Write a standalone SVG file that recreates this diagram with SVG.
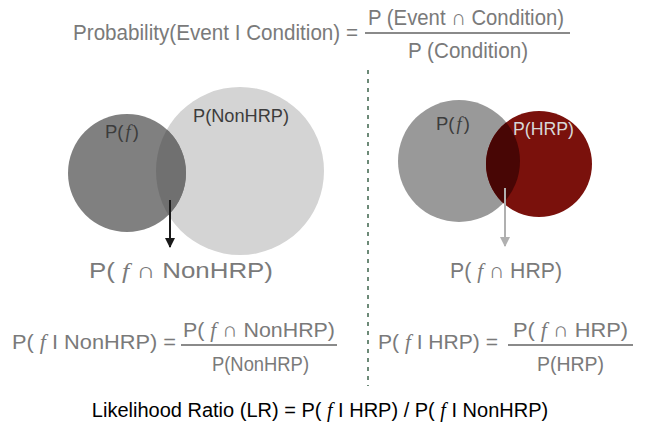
<svg xmlns="http://www.w3.org/2000/svg" width="646" height="426" viewBox="0 0 646 426">
  <defs>
    <style>
      text { font-family: "Liberation Sans", Arial, sans-serif; fill: #7a7a7a; }
      .f { font-family: "Liberation Serif", "Times New Roman", serif; font-style: italic; }
      .big { font-size: 22px; }
      .mid { font-size: 21px; }
      .lbl { font-size: 18.5px; }
      .dark { fill: #3c3c3c; }
      .bar { stroke: #8a8a8a; stroke-width: 2; }
    </style>
    <clipPath id="clipFLeft"><circle cx="127" cy="173" r="59"/></clipPath>
    <clipPath id="clipFRight"><circle cx="459" cy="161" r="61"/></clipPath>
    <marker id="headBlack" viewBox="0 0 10 10" refX="9" refY="5" markerWidth="10" markerHeight="10" markerUnits="userSpaceOnUse" orient="auto">
      <path d="M0,0 L10,5 L0,10 z" fill="#1a1a1a"/>
    </marker>
    <marker id="headGray" viewBox="0 0 10 10" refX="9" refY="5" markerWidth="10" markerHeight="10" markerUnits="userSpaceOnUse" orient="auto">
      <path d="M0,0 L10,5 L0,10 z" fill="#b0b0b0"/>
    </marker>
  </defs>

  <rect width="646" height="426" fill="#ffffff"/>

  <!-- general definition of conditional probability -->
  <g id="definition">
    <text class="big" x="73" y="40" textLength="285" lengthAdjust="spacingAndGlyphs">Probability(Event I Condition) =</text>
    <text class="big" x="368" y="25" textLength="196" lengthAdjust="spacingAndGlyphs">P (Event ∩ Condition)</text>
    <line class="bar" x1="365" y1="33" x2="570" y2="33"/>
    <text class="big" x="408" y="58" textLength="120" lengthAdjust="spacingAndGlyphs">P (Condition)</text>
  </g>

  <!-- divider between the two cases -->
  <g id="divider">
    <line x1="368" y1="70" x2="368" y2="386" stroke="#6d8a78" stroke-width="2" stroke-dasharray="4 5"/>
  </g>

  <!-- left case: f and NonHRP -->
  <g id="venn-nonhrp">
    <circle cx="240" cy="171" r="84" fill="#d4d4d4"/>
    <circle cx="127" cy="173" r="59" fill="#808080"/>
    <circle cx="240" cy="171" r="84" fill="#707070" clip-path="url(#clipFLeft)"/>
    <text class="lbl dark" x="105" y="138">P(<tspan class="f" dx="2">f</tspan><tspan dx="2">)</tspan></text>
    <text class="lbl dark" x="193" y="122" textLength="96" lengthAdjust="spacingAndGlyphs">P(NonHRP)</text>
  </g>

  <!-- right case: f and HRP -->
  <g id="venn-hrp">
    <circle cx="459" cy="161" r="61" fill="#999999"/>
    <circle cx="539" cy="164" r="53" fill="#7a110c"/>
    <circle cx="539" cy="164" r="53" fill="#480605" clip-path="url(#clipFRight)"/>
    <text class="lbl dark" x="436" y="130">P(<tspan class="f" dx="2">f</tspan><tspan dx="2">)</tspan></text>
    <text class="lbl" x="513" y="135" style="fill:#d8d8d8" textLength="61" lengthAdjust="spacingAndGlyphs">P(HRP)</text>
  </g>

  <g id="connectors">
    <line x1="170" y1="200" x2="170" y2="247" stroke="#1a1a1a" stroke-width="2" marker-end="url(#headBlack)"/>
    <line x1="505" y1="188" x2="505" y2="246" stroke="#b0b0b0" stroke-width="2" marker-end="url(#headGray)"/>
  </g>

  <g id="intersection-labels">
    <text class="big" x="89" y="278" textLength="184" lengthAdjust="spacingAndGlyphs">P( <tspan class="f">f</tspan> ∩ NonHRP)</text>
    <text class="big" x="450" y="278" textLength="112" lengthAdjust="spacingAndGlyphs">P( <tspan class="f">f</tspan> ∩ HRP)</text>
  </g>

  <!-- conditional probabilities -->
  <g id="cond-nonhrp">
    <text class="mid" x="12" y="349" textLength="164" lengthAdjust="spacingAndGlyphs">P( <tspan class="f">f</tspan> I NonHRP) =</text>
    <text class="mid" x="183" y="337" textLength="152" lengthAdjust="spacingAndGlyphs">P( <tspan class="f">f</tspan> ∩ NonHRP)</text>
    <line class="bar" x1="181" y1="345" x2="337" y2="345"/>
    <text class="mid" x="212" y="371" textLength="97" lengthAdjust="spacingAndGlyphs">P(NonHRP)</text>
  </g>

  <g id="cond-hrp">
    <text class="mid" x="378" y="349" textLength="120" lengthAdjust="spacingAndGlyphs">P( <tspan class="f">f</tspan> I HRP) =</text>
    <text class="mid" x="513" y="337" textLength="115" lengthAdjust="spacingAndGlyphs">P( <tspan class="f">f</tspan> ∩ HRP)</text>
    <line class="bar" x1="508" y1="345" x2="633" y2="345"/>
    <text class="mid" x="537" y="371" textLength="67" lengthAdjust="spacingAndGlyphs">P(HRP)</text>
  </g>

  <!-- likelihood ratio -->
  <g id="likelihood-ratio">
    <text x="320" y="417" text-anchor="middle" style="fill:#000000; font-size:20px">Likelihood Ratio (LR) = P( <tspan class="f">f</tspan> I HRP) / P( <tspan class="f">f</tspan> I NonHRP)</text>
  </g>
</svg>
